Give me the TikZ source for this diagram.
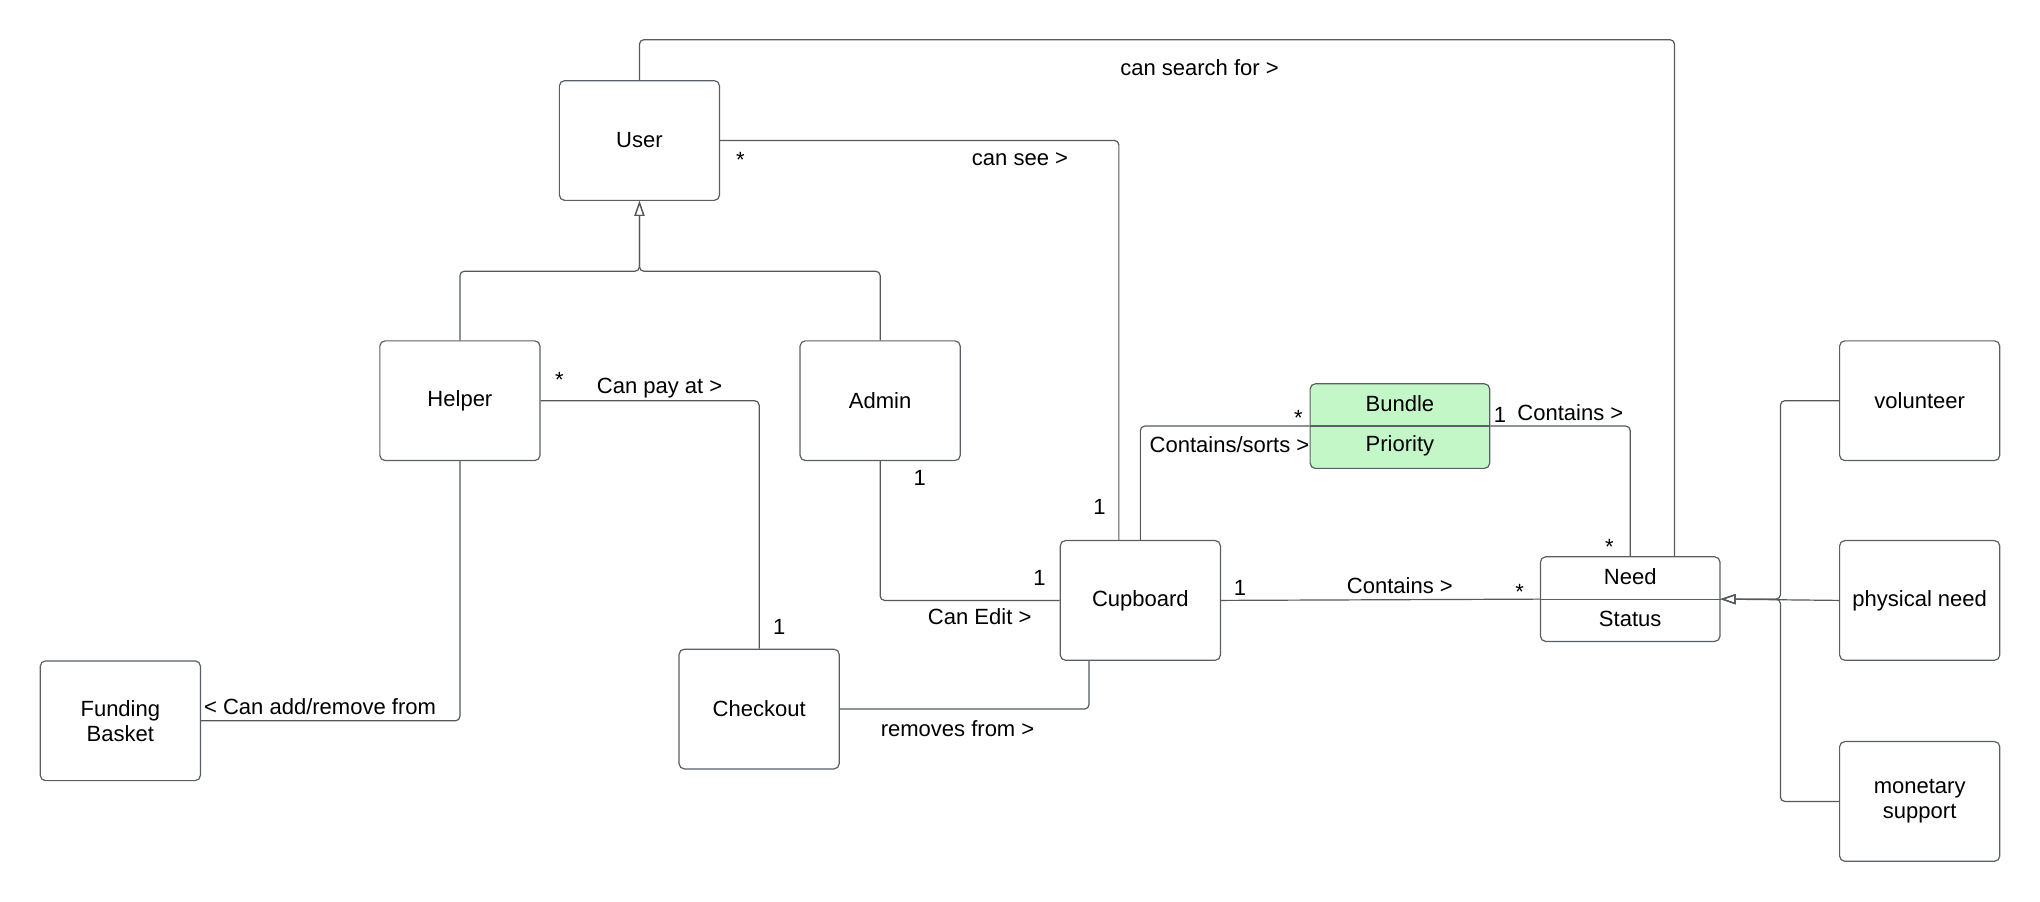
\documentclass[tikz,border=0pt]{standalone}
\usepackage{fontspec}
\setmainfont{Liberation Sans}
\usetikzlibrary{calc,arrows.meta}
\definecolor{boxgray}{HTML}{5A5F66}
\definecolor{linegray}{HTML}{55595E}
\definecolor{bundlegreen}{HTML}{C3F7C8}
\begin{document}
\begin{tikzpicture}[x=0.65pt,y=-0.65pt,
  txt/.style={font=\fontsize{11}{12.6}\selectfont, inner sep=0pt, align=center},
  box/.style={txt, draw=boxgray, line width=0.6pt, rounded corners=2.6pt,
    minimum width=80pt, minimum height=59.8pt, fill=white},
  splitbox/.style={draw=boxgray, line width=0.6pt, rounded corners=2.6pt,
    minimum width=89.7pt, minimum height=42.25pt, inner sep=0pt},
  conn/.style={draw=linegray, line width=0.6pt, rounded corners=2.2pt},
  gen/.style={conn, -{Triangle[open, length=7.5pt, width=5pt, line width=0.6pt]}},
  lbl/.style={txt},
  mult/.style={txt}
]
\useasboundingbox (0,0) rectangle (1568,692.6);

% class boxes
\node[box] (user) at (491.5,108) {User};
\node[box] (helper) at (353.5,308) {Helper};
\node[box] (admin) at (676.5,308) {Admin};
\node[box] (fund) at (92.5,554) {Funding\\Basket};
\node[box] (checkout) at (583.5,545) {Checkout};
\node[box] (cup) at (876.5,461.5) {Cupboard};
\node[box] (vol) at (1475.5,308) {volunteer};
\node[box] (phys) at (1475.5,461.5) {physical need};
\node[box] (mon) at (1475.5,616) {monetary\\support};

\node[splitbox, fill=bundlegreen] (bundle) at (1076,327.5) {};
\draw[draw=boxgray, line width=0.6pt] (bundle.west) -- (bundle.east);
\node[txt] (bundlet) at (1076,310) {Bundle};
\node[txt] (bundlea) at (1076,343) {Priority};

\node[splitbox, fill=white] (need) at (1253,460.5) {};
\draw[draw=boxgray, line width=0.6pt] (need.west) -- (need.east);
\node[txt] (needt) at (1253,443) {Need};
\node[txt] (needa) at (1253,476) {Status};

% generalization to User
\coordinate (uj) at ($(user.south)+(0,54)$);
\draw[gen] (helper.north) |- (uj) -- (user.south);
\draw[gen] (admin.north) |- (uj) -- (user.south);

% generalization to Need
\coordinate (nj) at ($(need.east)+(46,0)$);
\draw[gen] (vol.west) -| (nj) -- (need.east);
\draw[gen] (mon.west) -| (nj) -- (need.east);
\draw[gen] (phys.west) -- (need.east);

% associations
\coordinate (top) at ($(user.north)+(0,-31)$);
\draw[conn] (user.north) -- (top) -| ($(need.north)+(34,0)$);
\draw[conn] (user.east) -| ($(cup.north)+(-16.5,0)$);
\draw[conn] (helper.east) -| (checkout.north);
\draw[conn] (helper.south) |- (fund.east);
\draw[conn] (admin.south) |- (cup.west);
\draw[conn] (checkout.east) -| ($(cup.south)+(-39.5,0)$);
\draw[conn] (cup.north) |- (bundle.west);
\draw[conn] (bundle.east) -| (need.north);
\draw[conn] (cup.east) -- (need.west);

% labels
\node[lbl] (l1) at (922,52) {can search for >};
\node[lbl] (l2) at (784,122) {can see >};
\node[mult] (m1) at (569,123) {*};
\node[mult] (m2) at (845,390) {1};
\node[mult] (m3) at (430,292) {*};
\node[lbl] (l3) at (507,298) {Can pay at >};
\node[mult] (m4) at (599,482) {1};
\node[lbl] (l4) at (246,543) {< Can add/remove from};
\node[mult] (m5) at (707,367) {1};
\node[mult] (m6) at (799,444) {1};
\node[lbl] (l5) at (753,474) {Can Edit >};
\node[lbl] (l6) at (736,560) {removes from >};
\node[lbl] (l7) at (945,342) {Contains/sorts >};
\node[mult] (m7) at (998,321) {*};
\node[mult] (m8) at (1153,319) {1};
\node[lbl] (l8) at (1207,317) {Contains >};
\node[mult] (m9) at (1237,420) {*};
\node[mult] (m10) at (953,452) {1};
\node[lbl] (l9) at (1076,450) {Contains >};
\node[mult] (m11) at (1168,455) {*};
\end{tikzpicture}
\end{document}
